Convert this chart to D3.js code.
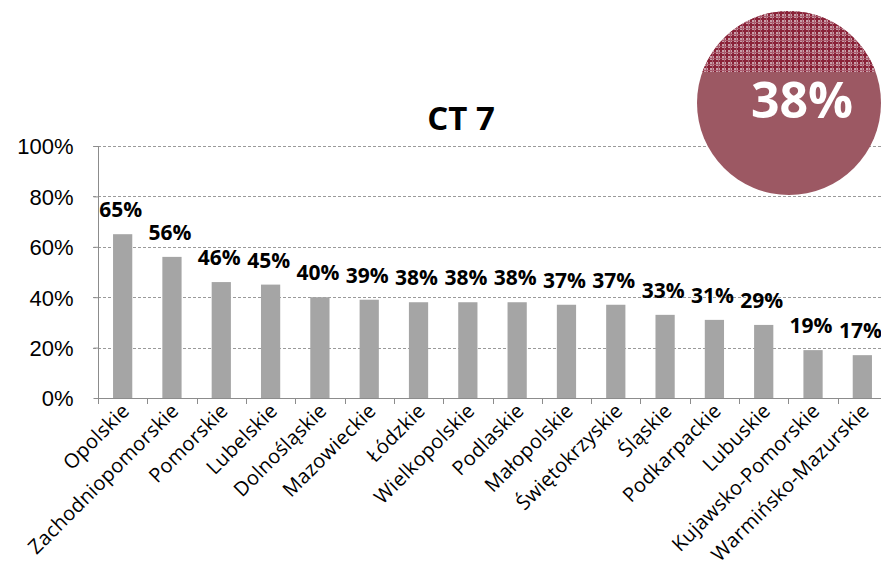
<!DOCTYPE html>
<html>
<head>
<meta charset="utf-8">
<script src="https://cdn.jsdelivr.net/npm/d3@7"></script>
<style>
	body { margin: 0; background: #fff; }
	svg { display: block; font-family: "Open Sans", sans-serif; }
	.grid line { stroke: #9a9a9a; stroke-dasharray: 3,2; }
	.axis path, .axis line { stroke: #8c8c8c; }
</style>
</head>
<body>
<svg id="chart" width="881" height="568"></svg>
<script>

const REGIONS = ['Opolskie', 'Zachodniopomorskie', 'Pomorskie', 'Lubelskie', 'Dolnośląskie', 'Mazowieckie',
	'Łódzkie', 'Wielkopolskie', 'Podlaskie', 'Małopolskie', 'Świętokrzyskie', 'Śląskie', 'Podkarpackie',
	'Lubuskie', 'Kujawsko-Pomorskie', 'Warmińsko-Mazurskie'];
const VALUES = [65, 56, 46, 45, 40, 39, 38, 38, 38, 37, 37, 33, 31, 29, 19, 17];
const Y_TICKS = [0, 20, 40, 60, 80, 100];
const TITLE = 'CT 7';
const AVERAGE = '38%';

function whenDocumentLoaded(action) {
	if (document.readyState === "loading") {
		document.addEventListener("DOMContentLoaded", action);
	} else {
		action();
	}
}

whenDocumentLoaded(() => {
	const svg = d3.select('#chart');

	// plot area, right side is cut off like in the source
	const left = 98, top = 146, bottom = 398, right = 887;

	const x = d3.scaleBand()
		.domain(REGIONS)
		.range([left, right])
		.paddingInner(0.61)
		.paddingOuter(0.305);

	const y = d3.scaleLinear()
		.domain([0, 100])
		.range([bottom, top]);

	// gridlines
	svg.append('g')
		.classed('grid', true)
		.selectAll('line')
		.data(Y_TICKS.filter(d => d > 0))
		.enter().append('line')
		.attr('x1', left - 5)
		.attr('x2', 881)
		.attr('y1', d => Math.round(y(d)) + 0.5)
		.attr('y2', d => Math.round(y(d)) + 0.5);

	// bars
	svg.append('g')
		.selectAll('rect')
		.data(VALUES)
		.enter().append('rect')
		.attr('x', (d, i) => x(REGIONS[i]))
		.attr('y', d => y(d))
		.attr('width', x.bandwidth())
		.attr('height', d => bottom - y(d))
		.attr('fill', '#a5a5a5');

	// y axis
	const yAxis = svg.append('g')
		.classed('axis', true)
		.attr('transform', `translate(${left + 0.5},0)`)
		.call(d3.axisLeft(y).tickValues(Y_TICKS).tickSize(5).tickSizeOuter(0).tickFormat(d => d + '%'));
	yAxis.select('.domain').attr('d', `M0,${top}V${bottom}`);
	yAxis.selectAll('text')
		.attr('x', -25)
		.attr('dy', '0.36em')
		.style('font-size', '22px')
		.style('fill', '#000');

	// x axis line + ticks at band edges
	const xg = svg.append('g').classed('axis', true);
	xg.append('line')
		.attr('x1', left).attr('x2', 881)
		.attr('y1', bottom + 0.5).attr('y2', bottom + 0.5);
	xg.selectAll('line.tick')
		.data(d3.range(REGIONS.length + 1))
		.enter().append('line')
		.classed('tick', true)
		.attr('x1', i => Math.round(left + i * x.step()) + 0.5)
		.attr('x2', i => Math.round(left + i * x.step()) + 0.5)
		.attr('y1', bottom)
		.attr('y2', bottom + 6);

	// category labels
	svg.append('g')
		.selectAll('text')
		.data(REGIONS)
		.enter().append('text')
		.text(d => d)
		.attr('text-anchor', 'end')
		.attr('transform', d => `translate(${x(d) + x.bandwidth() / 2 + 8},${bottom + 14}) rotate(-45)`)
		.style('font-size', '20px')
		.style('letter-spacing', '0.3px')
		.style('fill', '#000');

	// value labels
	svg.append('g')
		.selectAll('text')
		.data(VALUES)
		.enter().append('text')
		.text(d => d + '%')
		.attr('x', (d, i) => x(REGIONS[i]) + x.bandwidth() / 2 - 2)
		.attr('y', d => y(d) - 17)
		.attr('text-anchor', 'middle')
		.style('font-size', '21px')
		.style('font-weight', 'bold')
		.style('fill', '#000');

	// title
	svg.append('text')
		.text(TITLE)
		.attr('x', 461)
		.attr('y', 130)
		.attr('text-anchor', 'middle')
		.style('font-size', '33px')
		.style('font-weight', 'bold')
		.style('fill', '#000');

	// average badge
	const defs = svg.append('defs');
	const pat = defs.append('pattern')
		.attr('id', 'hatch')
		.attr('patternUnits', 'userSpaceOnUse')
		.attr('width', 6).attr('height', 6);
	pat.append('rect').attr('width', 6).attr('height', 6).attr('fill', '#c9a0aa');
	pat.append('rect').attr('x', 0).attr('y', 0).attr('width', 6).attr('height', 2).attr('fill', '#8a2238');
	pat.append('rect').attr('x', 0).attr('y', 0).attr('width', 2).attr('height', 6).attr('fill', '#8a2238');
	pat.append('rect').attr('x', 0).attr('y', 4).attr('width', 6).attr('height', 1).attr('fill', '#a85a6c');
	pat.append('rect').attr('x', 4).attr('y', 0).attr('width', 1).attr('height', 6).attr('fill', '#a85a6c');

	const cx = 789, cy = 103, r = 92;
	defs.append('clipPath').attr('id', 'topcut')
		.append('rect').attr('x', cx - r).attr('y', cy - r).attr('width', 2 * r).attr('height', 72 - (cy - r));

	svg.append('circle')
		.attr('cx', cx).attr('cy', cy).attr('r', r)
		.attr('fill', '#9c5863');
	svg.append('circle')
		.attr('cx', cx).attr('cy', cy).attr('r', r)
		.attr('fill', 'url(#hatch)')
		.attr('clip-path', 'url(#topcut)');

	svg.append('text')
		.text(AVERAGE)
		.attr('x', 802)
		.attr('y', 118)
		.attr('text-anchor', 'middle')
		.style('font-size', '50px')
		.style('font-weight', 'bold')
		.style('fill', '#fff');
});
</script>
</body>
</html>
